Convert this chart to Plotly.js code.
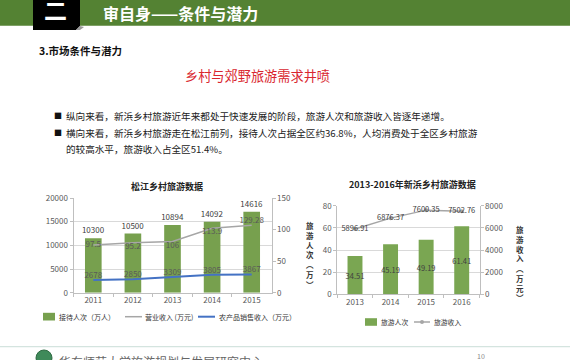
<!DOCTYPE html>
<html><head><meta charset="utf-8">
<script src="https://cdn.plot.ly/plotly-3.0.1.min.js"></script>
<style>html,body{margin:0;padding:0;background:#fff;overflow:hidden}#c{width:570px;height:360px}</style>
</head><body><div id="c"></div>
<script>
// ---- Chart 1: 松江乡村旅游数据 ----
const years1 = ['2011', '2012', '2013', '2014', '2015'];
const visitorsBar = [11500, 12500, 14300, 15000, 17100];      // bar heights as drawn (万人)
const visitorsLabel = ['10300', '10500', '10894', '14092', '14616'];
const revenueLine = [75.5, 79, 81, 102, 107];                  // line as drawn (右轴)
const revenueLabel = ['97.5', '95.2', '106', '113.9', '129.28'];
const farmSales = [2678, 2850, 3309, 3805, 3867];
const farmLabel = ['2678', '2850', '3309', '3805', '3867'];
const legend1 = ['接待人次（万人）', '营业收入 (万元)', '农产品销售收入（万元）'];
// ---- Chart 2: 2013-2016年新浜乡村旅游数据 ----
const years2 = ['2013', '2014', '2015', '2016'];
const tourists = [34.51, 45.19, 49.19, 61.41];
const income = [5896.91, 6876.37, 7600.35, 7502.76];
const legend2 = ['旅游人次', '旅游收入'];

const W = 570, H = 360;
const px = v => v / W, py = v => 1 - v / H;
const F = '"Noto Sans CJK SC", "Noto Sans", sans-serif';
const tickF = {family: F, size: 8, color: '#595959'};
const C = {bar1: '#77a04e', bar2: '#7aa652', grey: '#a6a6a6', blue: '#4472c4'};

const traces = [
  {type: 'bar', x: years1, y: visitorsBar, name: legend1[0], xaxis: 'x', yaxis: 'y',
   marker: {color: C.bar1}, width: 0.42, text: visitorsLabel, textposition: 'outside', constraintext: 'none',
   textfont: {family: F, size: 8, color: '#404040'}, cliponaxis: false, showlegend: false},
  {type: 'scatter', mode: 'lines+text', x: years1, y: revenueLine, name: legend1[1], xaxis: 'x', yaxis: 'y2',
   line: {color: C.grey, width: 1.5}, text: revenueLabel,
   textposition: ['middle center', 'bottom center', 'bottom center', 'bottom center', 'top center'],
   textfont: {family: F, size: 8, color: '#595959'}, cliponaxis: false, showlegend: false},
  {type: 'scatter', mode: 'lines+text', x: years1, y: farmSales, name: legend1[2], xaxis: 'x', yaxis: 'y',
   line: {color: C.blue, width: 2}, text: farmLabel, textposition: 'top center',
   textfont: {family: F, size: 8, color: '#595959'}, cliponaxis: false, showlegend: false},
  {type: 'bar', x: years2, y: tourists, name: legend2[0], xaxis: 'x2', yaxis: 'y3',
   marker: {color: C.bar2}, width: 0.42, text: tourists.map(String), textposition: 'inside',
   insidetextanchor: 'middle', textangle: 0, constraintext: 'none',
   textfont: {family: F, size: 7.5, color: '#404040'}, showlegend: false},
  {type: 'scatter', mode: 'lines+markers+text', x: years2, y: income, name: legend2[1], xaxis: 'x2', yaxis: 'y4',
   line: {color: C.grey, width: 1.5}, marker: {color: C.grey, size: 4},
   text: income.map(String), textposition: 'middle center',
   textfont: {family: F, size: 7.5, color: '#404040'}, cliponaxis: false, showlegend: false}
];

const axBase = {showgrid: false, zeroline: false, showline: true, linecolor: '#bfbfbf', linewidth: 1,
  ticks: 'outside', ticklen: 3, tickcolor: '#bfbfbf', tickfont: tickF, fixedrange: true};

const ann = [];
function txt(text, x, y, size, opts) {
  ann.push(Object.assign({xref: 'paper', yref: 'paper', x: px(x), y: py(y), text: text, showarrow: false,
    xanchor: 'left', yanchor: 'middle', font: {family: F, size: size, color: '#000'}}, opts || {}));
}
// header
txt('二', 55.5, 8.5, 23, {xanchor: 'center', font: {family: F, size: 23, color: '#fff', weight: 'bold'}});
txt('<b>审自身——条件与潜力</b>', 101, 13, 16, {font: {family: F, size: 16, color: '#fff'}});
txt('<b>3.市场条件与潜力</b>', 37, 50.5, 10.5, {font: {family: F, size: 10.5, color: '#111'}});
txt('乡村与郊野旅游需求井喷', 257.5, 75, 13.2, {xanchor: 'center', font: {family: F, size: 13.2, color: '#d9262e'}});
txt('■', 52, 116, 8, {font: {family: F, size: 8, color: '#111'}});
txt('■', 52, 132.5, 8, {font: {family: F, size: 8, color: '#111'}});
txt('纵向来看，新浜乡村旅游近年来都处于快速发展的阶段，旅游人次和旅游收入皆逐年递增。', 64, 116, 9.6, {font: {family: F, size: 9.6, color: '#222'}});
txt('横向来看，新浜乡村旅游走在松江前列，接待人次占据全区约36.8%，人均消费处于全区乡村旅游', 64, 132.5, 9.6, {font: {family: F, size: 9.6, color: '#222'}});
txt('的较高水平，旅游收入占全区51.4%。', 64, 149.3, 9.6, {font: {family: F, size: 9.6, color: '#222'}});
// chart titles
txt('<b>松江乡村旅游数据</b>', 167, 186.5, 9, {xanchor: 'center', font: {family: F, size: 9, color: '#222'}});
txt('<b>2013-2016年新浜乡村旅游数据</b>', 412, 185, 9, {xanchor: 'center', font: {family: F, size: 9, color: '#222'}});
// right chart axis titles
txt('<b>旅<br>游<br>人<br>次<br>︵<br>万<br>︶</b>', 310, 255, 7.5, {xanchor: 'center', font: {family: F, size: 7.5, color: '#333'}});
txt('<b>旅<br>游<br>收<br>入<br>︵<br>万<br>元<br>︶</b>', 520, 263, 7.5, {xanchor: 'center', font: {family: F, size: 7.5, color: '#333'}});
// legends (drawn beside their symbols)
const lgF = {family: F, size: 7, color: '#333'};
txt(legend1[0], 56.5, 316.7, 7, {font: lgF});
txt(legend1[1], 143, 316.7, 7, {font: lgF});
txt(legend1[2], 216.5, 316.7, 7, {font: lgF});
txt(legend2[0], 379, 322, 6.8, {font: Object.assign({}, lgF, {size: 6.8})});
txt(legend2[1], 432, 322, 6.8, {font: Object.assign({}, lgF, {size: 6.8})});
// footer
txt('华东师范大学旅游规划与发展研究中心', 57, 361, 12, {font: {family: F, size: 12, color: '#666'}});
txt('10', 475, 356, 7, {font: {family: F, size: 7, color: '#888'}});

const shapes = [
  {type: 'rect', xref: 'paper', yref: 'paper', x0: 0, x1: 1, y0: py(25.7), y1: 1, fillcolor: '#548233', line: {width: 0}, layer: 'below'},
  {type: 'path', xref: 'paper', yref: 'paper', path: `M${px(33)},${py(0)} L${px(80)},${py(0)} L${px(80)},${py(26)} L${px(76)},${py(30)} L${px(33)},${py(30)} Z`, fillcolor: '#000', line: {width: 0}},
  {type: 'path', xref: 'paper', yref: 'paper', path: `M${px(76)},${py(30)} L${px(80)},${py(26)} L${px(84)},${py(27)} L${px(80)},${py(30)} Z`, fillcolor: '#9a9a9a', line: {width: 0}},
  {type: 'line', xref: 'paper', yref: 'paper', x0: 0, x1: 1, y0: py(346.7), y1: py(346.7), line: {color: '#d4e4df', width: 1.2}},
  {type: 'circle', xref: 'paper', yref: 'paper', x0: px(36), x1: px(52), y0: py(350), y1: py(366), fillcolor: '#3f8a5a', line: {color: '#2f6b43', width: 1}},
  // legend symbols
  {type: 'rect', xref: 'paper', yref: 'paper', x0: px(43), x1: px(55), y0: py(320.5), y1: py(312.8), fillcolor: C.bar1, line: {width: 0}},
  {type: 'line', xref: 'paper', yref: 'paper', x0: px(125), x1: px(142), y0: py(316.7), y1: py(316.7), line: {color: C.grey, width: 1.5}},
  {type: 'line', xref: 'paper', yref: 'paper', x0: px(198), x1: px(215), y0: py(316.7), y1: py(316.7), line: {color: C.blue, width: 2}},
  {type: 'rect', xref: 'paper', yref: 'paper', x0: px(365), x1: px(377), y0: py(325.8), y1: py(318.2), fillcolor: C.bar2, line: {width: 0}},
  {type: 'line', xref: 'paper', yref: 'paper', x0: px(414), x1: px(430), y0: py(322), y1: py(322), line: {color: C.grey, width: 1.5}},
  {type: 'circle', xref: 'paper', yref: 'paper', x0: px(420), x1: px(424), y0: py(324), y1: py(320), fillcolor: C.grey, line: {width: 0}}
];

const layout = {
  width: W, height: H, autosize: false, margin: {l: 0, r: 0, t: 0, b: 0},
  paper_bgcolor: '#fff', plot_bgcolor: 'rgba(0,0,0,0)', font: {family: F}, showlegend: false,
  xaxis: Object.assign({}, axBase, {type: 'category', domain: [px(73.5), px(271.5)], anchor: 'y', tickson: 'boundaries'}),
  yaxis: Object.assign({}, axBase, {domain: [py(292.7), py(198)], anchor: 'x', range: [0, 20000], tickvals: [0, 5000, 10000, 15000, 20000],
    tickformat: 'd', showgrid: true, gridcolor: '#d9d9d9', gridwidth: 1}),
  yaxis2: Object.assign({}, axBase, {overlaying: 'y', side: 'right', anchor: 'x', range: [0, 150], tickvals: [0, 50, 100, 150], tickformat: 'd'}),
  xaxis2: Object.assign({}, axBase, {type: 'category', domain: [px(337.2), px(479.5)], anchor: 'y3', tickson: 'boundaries'}),
  yaxis3: Object.assign({}, axBase, {domain: [py(294.3), py(205.7)], anchor: 'x2', range: [0, 80], tickvals: [0, 20, 40, 60, 80],
    tickformat: 'd', showgrid: true, gridcolor: '#d9d9d9', gridwidth: 1}),
  yaxis4: Object.assign({}, axBase, {overlaying: 'y3', side: 'right', anchor: 'x2', range: [0, 8000], tickvals: [0, 2000, 4000, 6000, 8000], tickformat: 'd'}),
  annotations: ann, shapes: shapes
};

Plotly.newPlot('c', traces, layout, {staticPlot: true, displayModeBar: false});
</script></body></html>
